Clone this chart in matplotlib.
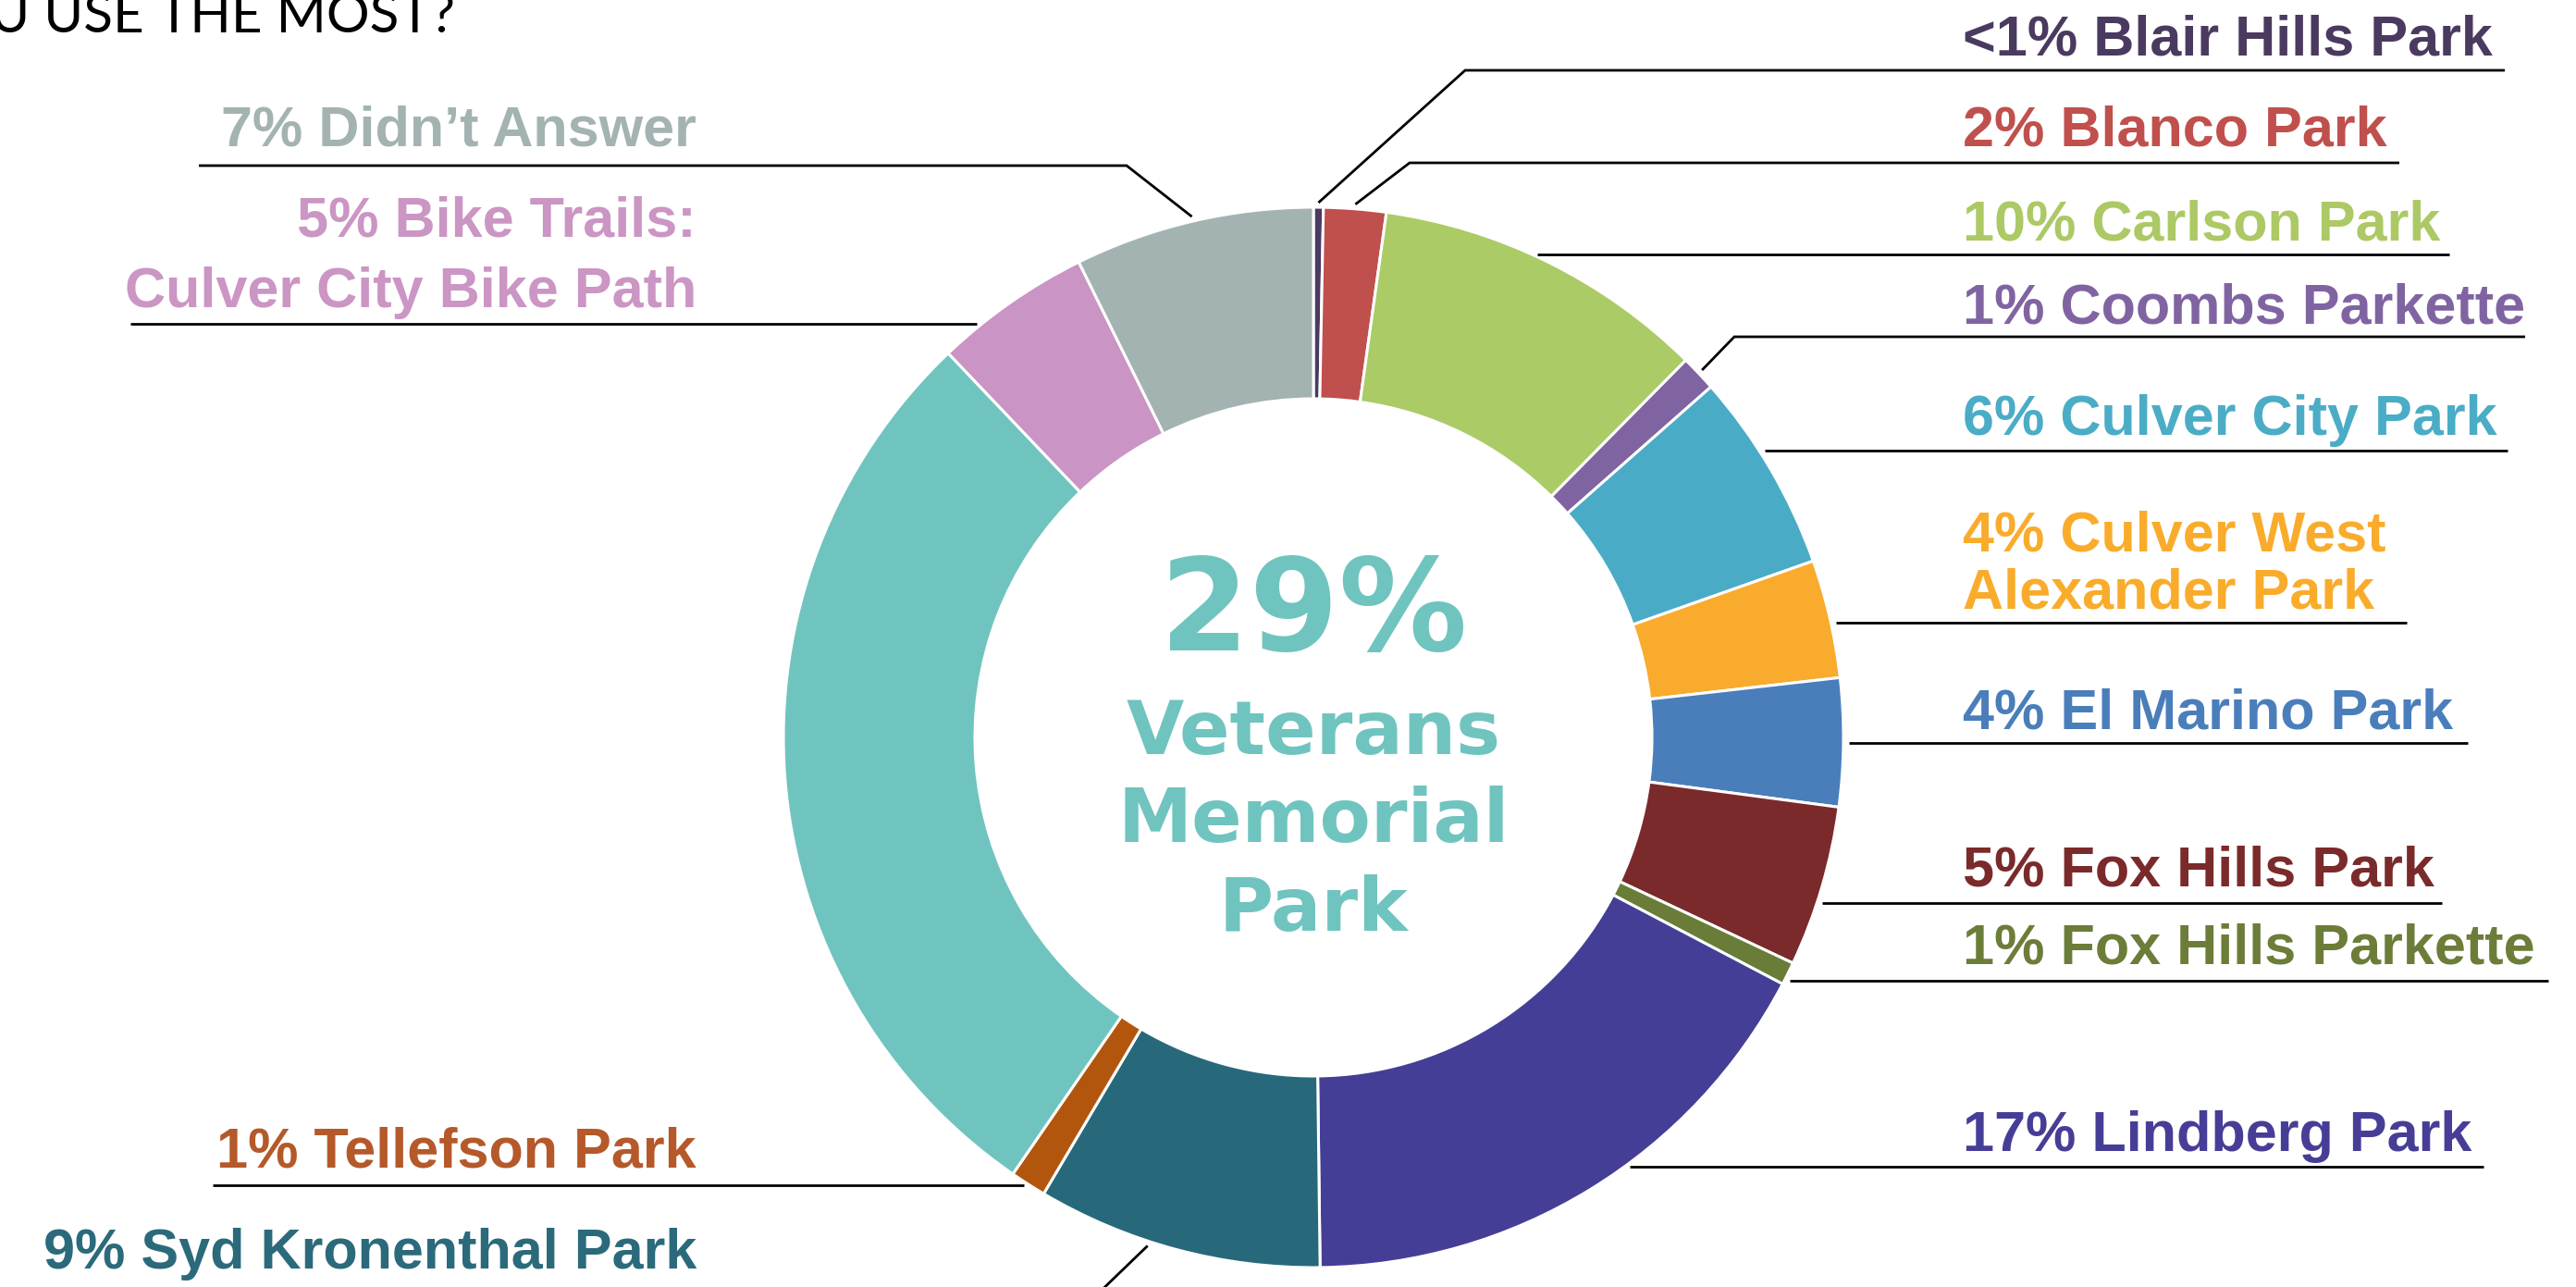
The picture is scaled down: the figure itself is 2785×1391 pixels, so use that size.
import numpy as np
import matplotlib
matplotlib.use("Agg")
import matplotlib.pyplot as plt

W, H = 2785, 1391

# survey answers, clockwise from 12 o'clock
parks = ["Blair Hills Park", "Blanco Park", "Carlson Park", "Coombs Parkette",
         "Culver City Park", "Culver West Alexander Park", "El Marino Park",
         "Fox Hills Park", "Fox Hills Parkette", "Lindberg Park",
         "Syd Kronenthal Park", "Tellefson Park", "Veterans Memorial Park",
         "Bike Trails: Culver City Bike Path", "Didn't Answer"]
values = [0.3, 1.9, 10.2, 1.1, 6.1, 3.6, 3.9, 4.9, 0.7, 17.1, 8.7, 1.1, 28.3, 4.8, 7.3]
label_text = ["<1% Blair Hills Park", "2% Blanco Park", "10% Carlson Park",
              "1% Coombs Parkette", "6% Culver City Park",
              "4% Culver West\nAlexander Park", "4% El Marino Park",
              "5% Fox Hills Park", "1% Fox Hills Parkette", "17% Lindberg Park",
              "9% Syd Kronenthal Park", "1% Tellefson Park", None,
              "5% Bike Trails:\nCulver City Bike Path", "7% Didn\u2019t Answer"]
colors = ["#4b3a62", "#c0504d", "#abcb66", "#8064a2", "#4aabc6", "#f9ab2d",
          "#4a7ebb", "#7a2a2b", "#6a7d38", "#453e96", "#27697a", "#b3560d",
          "#70c4bf", "#ca94c4", "#a3b3b2"]
text_colors = ["#4a3a60", "#c0504d", "#acc965", "#8064a2", "#4bacc6", "#f9ac2b",
               "#4a7ebb", "#7b2a2b", "#6b7d38", "#463e96", "#2b6a7b", "#b5592a",
               "#70c4bf", "#cb95c4", "#a3b3b2"]

cx, cy, R, R_in = 1420, 797, 573, 366

# label layout: side, baseline of last line, underline y, far end x,
# elbow x (None = straight to ring), where on the wedge the leader points (0..1)
layout = {
    0: ("r", 59, 76, 2708, 1584, 0.5),
    1: ("r", 158, 176, 2594, 1524, 0.5),
    2: ("r", 259, 275, 2648, None, 0.5),
    3: ("r", 349, 364, 2730, 1875, 0.5),
    4: ("r", 470, 487, 2711, None, 0.5),
    5: ("r", 657, 673, 2602, None, 0.5),
    6: ("r", 788, 803, 2668, None, 0.5),
    7: ("r", 958, 976, 2640, None, 0.5),
    8: ("r", 1041, 1060, 2755, None, 0.5),
    9: ("r", 1244, 1261, 2685, None, 0.5),
    10: ("l", 1371, 1405, 22, 1180, 0.6),
    11: ("l", 1262, 1281, 230, None, 0.5),
    13: ("l", 332, 350, 141, None, 0.5),
    14: ("l", 157, 179, 215, 1218, 0.5),
}
line_gap = {5: 62, 13: 77}

fig = plt.figure(figsize=(W / 100, H / 100), dpi=100)
ax = fig.add_axes([0, 0, 1, 1])

wedges, _ = ax.pie(values, colors=colors, startangle=-90, counterclock=True,
                   center=(cx, cy), radius=R, frame=True,
                   wedgeprops=dict(width=R - R_in, edgecolor="white", linewidth=2.2))
ax.set_xlim(0, W)
ax.set_ylim(H, 0)
ax.set_aspect("auto")
ax.axis("off")

lab_font = dict(family=["Liberation Sans", "DejaVu Sans"], fontweight="bold", fontsize=44)

for i, (side, base, ly, xend, elbow, frac) in layout.items():
    w = wedges[i]
    ang = np.deg2rad(w.theta1 + frac * (w.theta2 - w.theta1))
    if elbow is None:
        dx = np.sqrt(max(R ** 2 - (ly - cy) ** 2, 0)) + 6
        xs = cx + dx if side == "r" else cx - dx
        ax.plot([xs, xend], [ly, ly], color="black", lw=2, solid_capstyle="butt")
    else:
        px, py = cx + (R + 5) * np.cos(ang), cy + (R + 5) * np.sin(ang)
        ax.plot([px, elbow, xend], [py, ly, ly], color="black", lw=2,
                solid_capstyle="butt", solid_joinstyle="miter")
    lines = label_text[i].split("\n")
    gap = line_gap.get(i, 70)
    for k, t in enumerate(lines):
        yb = base - gap * (len(lines) - 1 - k)
        if side == "r":
            ax.text(2122, yb, t, ha="left", va="baseline", color=text_colors[i], **lab_font)
        else:
            ax.text(753, yb, t, ha="right", va="baseline", color=text_colors[i], **lab_font)

# centre label for the biggest slice
big = int(np.argmax(values))
ctr = dict(family="DejaVu Sans", fontweight="bold", color=text_colors[big],
           ha="center", va="baseline")
ax.text(cx, 703, "29%", fontsize=100, **ctr)
for t, yb in zip(["Veterans", "Memorial", "Park"], [815, 910, 1006]):
    ax.text(cx, yb, t, fontsize=58, **ctr)

# title, cut off at the left edge in the source
ax.text(492, 35, "WHICH PARK DO YOU USE THE MOST?", ha="right", va="baseline",
        family=["Lato", "DejaVu Sans"], fontweight="normal", fontsize=42, color="black")

fig.savefig("out.png", dpi=100, facecolor="white")
